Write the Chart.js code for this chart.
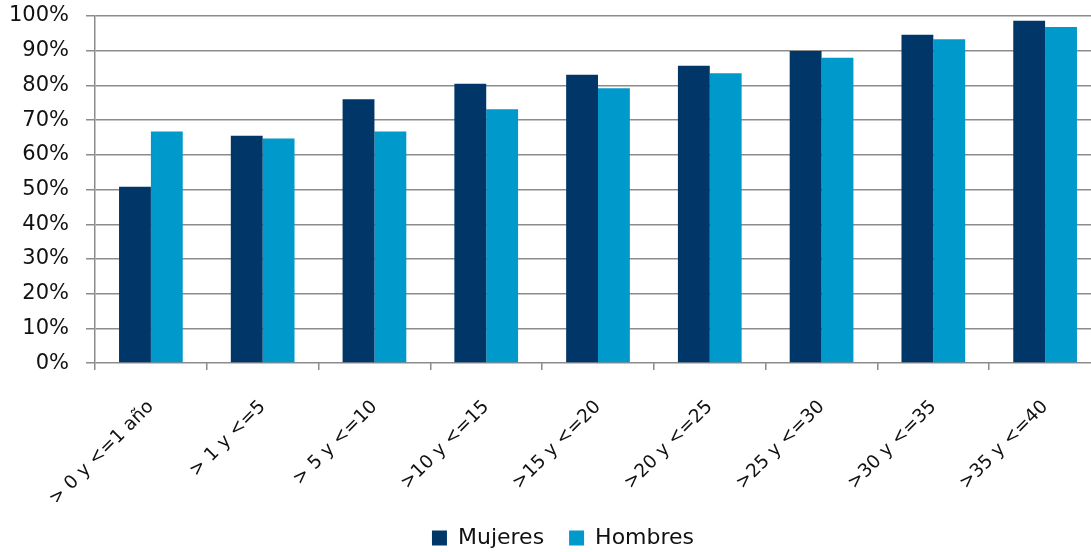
<!DOCTYPE html>
<html>
<head>
<meta charset="utf-8">
<script src="https://cdn.jsdelivr.net/npm/chart.js@4"></script>
<style>
  html, body { margin: 0; padding: 0; background: #fff; overflow: hidden; }
  #wrap { width: 1121px; height: 559px; }
</style>
</head>
<body>
<div id="wrap"><canvas id="chartAntig"></canvas></div>
<script>
const categories = ['> 0 y <=1 año', '> 1 y <=5', '> 5 y <=10', '>10 y <=15', '>15 y <=20',
  '>20 y <=25', '>25 y <=30', '>30 y <=35', '>35 y <=40'];
const mujeres = [50.8, 65.5, 76.0, 80.5, 83.1, 85.7, 89.9, 94.6, 98.6];
const hombres = [66.7, 64.7, 66.7, 73.1, 79.2, 83.5, 88.0, 93.3, 96.8];
const yTicks = [0, 10, 20, 30, 40, 50, 60, 70, 80, 90, 100];

const COLORS = { mujeres: '#003768', hombres: '#0099cc' };
const gridColor = '#8c8c8c';
const font = { family: 'DejaVu Sans', size: 21 };
const xFont = { family: 'DejaVu Sans', size: 18.5 };
const legendFont = { family: 'DejaVu Sans', size: 22 };

new Chart(document.getElementById('chartAntig').getContext('2d'), {
  type: 'bar',
  data: {
    labels: categories,
    datasets: [
      { label: 'Mujeres', data: mujeres, backgroundColor: COLORS.mujeres },
      { label: 'Hombres', data: hombres, backgroundColor: COLORS.hombres },
    ],
  },
  options: {
    responsive: true,
    maintainAspectRatio: false,
    animation: false,
    categoryPercentage: 0.57,
    barPercentage: 1.0,
    layout: { padding: { left: 5, right: 0, top: 16, bottom: 0 } },
    plugins: {
      tooltip: { enabled: false },
      legend: {
        position: 'bottom',
        labels: {
          color: '#111',
          font: legendFont,
          boxWidth: 15,
          boxHeight: 15,
          padding: 25,
        },
      },
    },
    scales: {
      x: {
        afterFit: (scale) => {
          scale.paddingRight = 20;
          scale.height -= 34;
        },
        grid: {
          offset: true,
          drawOnChartArea: false,
          drawTicks: true,
          tickLength: 7,
          color: gridColor,
          lineWidth: 1.5,
        },
        border: { display: false },
        ticks: {
          color: '#111',
          font: xFont,
          minRotation: 45,
          maxRotation: 45,
          padding: 26,
        },
      },
      y: {
        min: 0,
        max: 100,
        afterFit: (scale) => {
          scale.width = 90;
          scale.paddingTop = 0;
          scale.paddingBottom = 0;
        },
        afterBuildTicks: (scale) => { scale.ticks = yTicks.map((v) => ({ value: v })); },
        grid: { color: gridColor, lineWidth: 1.5, tickLength: 9 },
        border: { color: gridColor, width: 1.5 },
        ticks: {
          color: '#111',
          font,
          padding: 17,
          callback: (v) => v + '%',
        },
      },
    },
  },
});
</script>
</body>
</html>
